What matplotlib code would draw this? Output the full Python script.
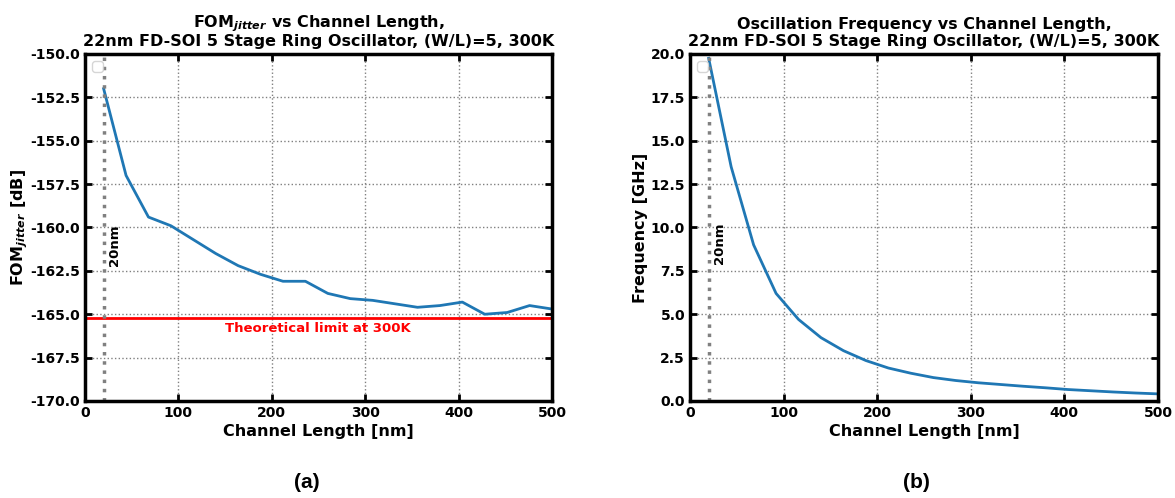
import matplotlib.pyplot as plt
import numpy as np

# channel lengths [nm]
L = [20, 44, 68, 92, 116, 140, 164, 188, 212, 236, 260,
     284, 308, 332, 356, 380, 404, 428, 452, 476, 500]

fom = [-152.0, -157.0, -159.4, -159.9, -160.7, -161.5, -162.2, -162.7, -163.1, -163.1, -163.8,
       -164.1, -164.2, -164.4, -164.6, -164.5, -164.3, -165.0, -164.9, -164.5, -164.7]

freq = [19.75, 13.5, 9.0, 6.2, 4.7, 3.65, 2.9, 2.33, 1.9, 1.6, 1.35,
        1.18, 1.05, 0.95, 0.85, 0.76, 0.66, 0.59, 0.52, 0.46, 0.41]

fom_limit = -165.2
L_min = 20

plt.rcParams['font.family'] = 'DejaVu Sans'
plt.rcParams['font.weight'] = 'bold'

fig = plt.figure(figsize=(11.75, 4.98), dpi=100)
ax1 = fig.add_axes([0.0723, 0.1948, 0.3975, 0.6968])
ax2 = fig.add_axes([0.5872, 0.1948, 0.3983, 0.6968])

sub = '22nm FD-SOI 5 Stage Ring Oscillator, (W/L)=5, 300K'

def style(ax):
    ax.grid(True, ls=':', lw=1, c='grey')
    ax.tick_params(direction='in', length=5, width=2, top=True, right=True, labelsize=10)
    for s in ax.spines.values():
        s.set_linewidth(2.5)
    for lab in ax.get_xticklabels() + ax.get_yticklabels():
        lab.set_fontweight('bold')
    ax.set_xlim(0, 500)
    ax.set_xlabel('Channel Length [nm]', fontsize=11.5, fontweight='bold', labelpad=3)
    ax.axvline(L_min, ls=':', lw=2.5, c='grey')
    ax.legend(handles=[], loc='upper left')

# (a)
ax1.plot(L, fom, c='tab:blue', lw=2)
ax1.axhline(fom_limit, c='red', lw=2)
ax1.text(150, -165.45, 'Theoretical limit at 300K', color='red', fontsize=9.5, fontweight='bold', va='top')
ax1.set_ylim(-170, -150)
ax1.set_yticks(np.arange(-170, -149, 2.5))
ax1.yaxis.set_major_formatter(plt.FormatStrFormatter('%.1f'))
ax1.text(25, -162.2, '20nm', rotation=90, fontsize=9.5, fontweight='bold', va='bottom', ha='left')
ax1.set_title(r'FOM$_{\it{jitter}}$ vs Channel Length,' + '\n' + sub, fontsize=11.5, fontweight='bold',
              pad=5.5, linespacing=1.0)
ax1.set_ylabel(r'FOM$_{\it{jitter}}$ [dB]', fontsize=11.5, fontweight='bold', labelpad=0)
style(ax1)

# (b)
ax2.plot(L, freq, c='tab:blue', lw=2)
ax2.set_ylim(0, 20)
ax2.set_yticks(np.arange(0, 20.1, 2.5))
ax2.yaxis.set_major_formatter(plt.FormatStrFormatter('%.1f'))
ax2.text(25, 7.9, '20nm', rotation=90, fontsize=9.5, fontweight='bold', va='bottom', ha='left')
ax2.set_title('Oscillation Frequency vs Channel Length,\n' + sub, fontsize=11.5, fontweight='bold', pad=5.5)
ax2.set_ylabel('Frequency [GHz]', fontsize=11.5, fontweight='bold', labelpad=2)
style(ax2)

fig.text(0.261, 0.032, '(a)', fontsize=15, fontweight='bold', family='Liberation Sans', ha='center', va='center')
fig.text(0.780, 0.032, '(b)', fontsize=15, fontweight='bold', family='Liberation Sans', ha='center', va='center')

fig.savefig('out.png', dpi=100)
